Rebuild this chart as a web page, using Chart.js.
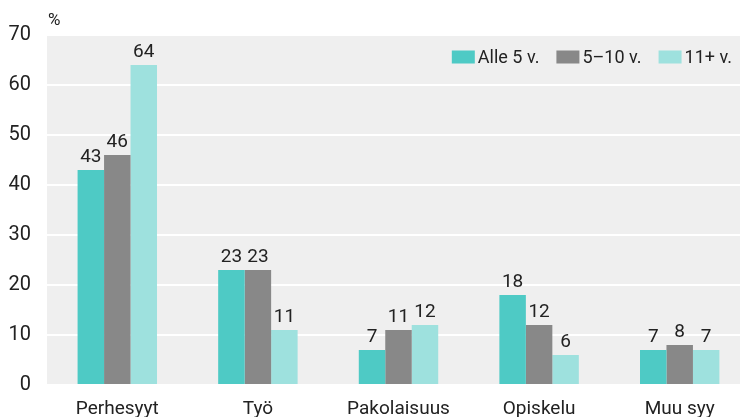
<!DOCTYPE html>
<html><head><meta charset="utf-8">
<script src="https://cdn.jsdelivr.net/npm/chart.js@4"></script>
<style>html,body{margin:0;padding:0;background:#fff;overflow:hidden;}#wrap{width:740px;height:417px;overflow:hidden;}</style>
</head><body><div id="wrap"><canvas id="c" width="750" height="417"></canvas></div>
<script>
const categories = ["Perhesyyt", "Työ", "Pakolaisuus", "Opiskelu", "Muu syy"];
const seriesNames = ["Alle 5 v.", "5–10 v.", "11+ v."];
const alle5 = [43, 23, 7, 18, 7];
const v5to10 = [46, 23, 11, 12, 8];
const v11plus = [64, 11, 12, 6, 7];
const yTicks = [0, 10, 20, 30, 40, 50, 60, 70];
const colors = ["#4ecac5", "#888888", "#9ee1de"];
const FONT = "'Roboto', sans-serif";
const VISIBLE_W = 740;

const bgPlugin = {
  id: 'bg',
  beforeDraw(chart) {
    const {ctx, chartArea: a} = chart;
    ctx.save();
    ctx.fillStyle = '#efefef';
    ctx.fillRect(a.left, a.top, a.right - a.left, a.bottom - a.top);
    ctx.restore();
  },
  afterDraw(chart) {
    const {ctx, chartArea: a} = chart;
    ctx.save();
    ctx.fillStyle = '#222';
    ctx.font = '17px ' + FONT;
    ctx.textAlign = 'left';
    ctx.textBaseline = 'alphabetic';
    ctx.fillText('%', a.left + 1, a.top - 10);
    // legend
    ctx.font = '18px ' + FONT;
    ctx.textBaseline = 'middle';
    const boxW = 23, boxH = 13, gapBox = 3, gapItem = 17;
    const cy = a.top + 22;
    let x = VISIBLE_W - 8;
    const items = chart.data.datasets.map(d => ({label: d.label, color: d.backgroundColor}));
    for (let i = items.length - 1; i >= 0; i--) {
      const w = ctx.measureText(items[i].label).width;
      x -= w;
      ctx.fillStyle = '#222';
      ctx.fillText(items[i].label, x, cy + 1);
      x -= gapBox + boxW;
      ctx.fillStyle = items[i].color;
      ctx.fillRect(x, cy - boxH / 2, boxW, boxH);
      x -= gapItem;
    }
    ctx.restore();
  }
};
const labelPlugin = {
  id: 'vals',
  afterDatasetsDraw(chart) {
    const {ctx} = chart;
    ctx.save();
    ctx.fillStyle = '#222';
    ctx.font = '19px ' + FONT;
    ctx.textAlign = 'center';
    ctx.textBaseline = 'alphabetic';
    chart.data.datasets.forEach((ds, i) => {
      chart.getDatasetMeta(i).data.forEach((bar, j) => {
        ctx.fillText(String(ds.data[j]), bar.x, bar.y - 8);
      });
    });
    ctx.restore();
  }
};

new Chart(document.getElementById('c'), {
  type: 'bar',
  data: {
    labels: categories,
    datasets: [
      {label: seriesNames[0], data: alle5, backgroundColor: colors[0]},
      {label: seriesNames[1], data: v5to10, backgroundColor: colors[1]},
      {label: seriesNames[2], data: v11plus, backgroundColor: colors[2]}
    ]
  },
  options: {
    responsive: false,
    animation: false,
    devicePixelRatio: 1,
    layout: {padding: {top: 35, right: 0, left: 0, bottom: 0}},
    datasets: {bar: {categoryPercentage: 0.565, barPercentage: 1.0, borderWidth: 0}},
    plugins: {
      legend: {display: false},
      tooltip: {enabled: false}
    },
    scales: {
      x: {
        grid: {display: false, drawTicks: false},
        border: {display: false},
        ticks: {color: '#222', font: {family: FONT, size: 19}, padding: 13},
        afterFit(s) { s.height = 32; }
      },
      y: {
        min: 0, max: 70,
        afterBuildTicks(s) { s.ticks = yTicks.map(v => ({value: v})); },
        grid: {color: '#ffffff', lineWidth: 2, drawTicks: false},
        border: {display: false},
        ticks: {color: '#222', font: {family: FONT, size: 20}, padding: 16},
        afterFit(s) { s.width = 47; }
      }
    }
  },
  plugins: [bgPlugin, labelPlugin]
});
</script></body></html>
